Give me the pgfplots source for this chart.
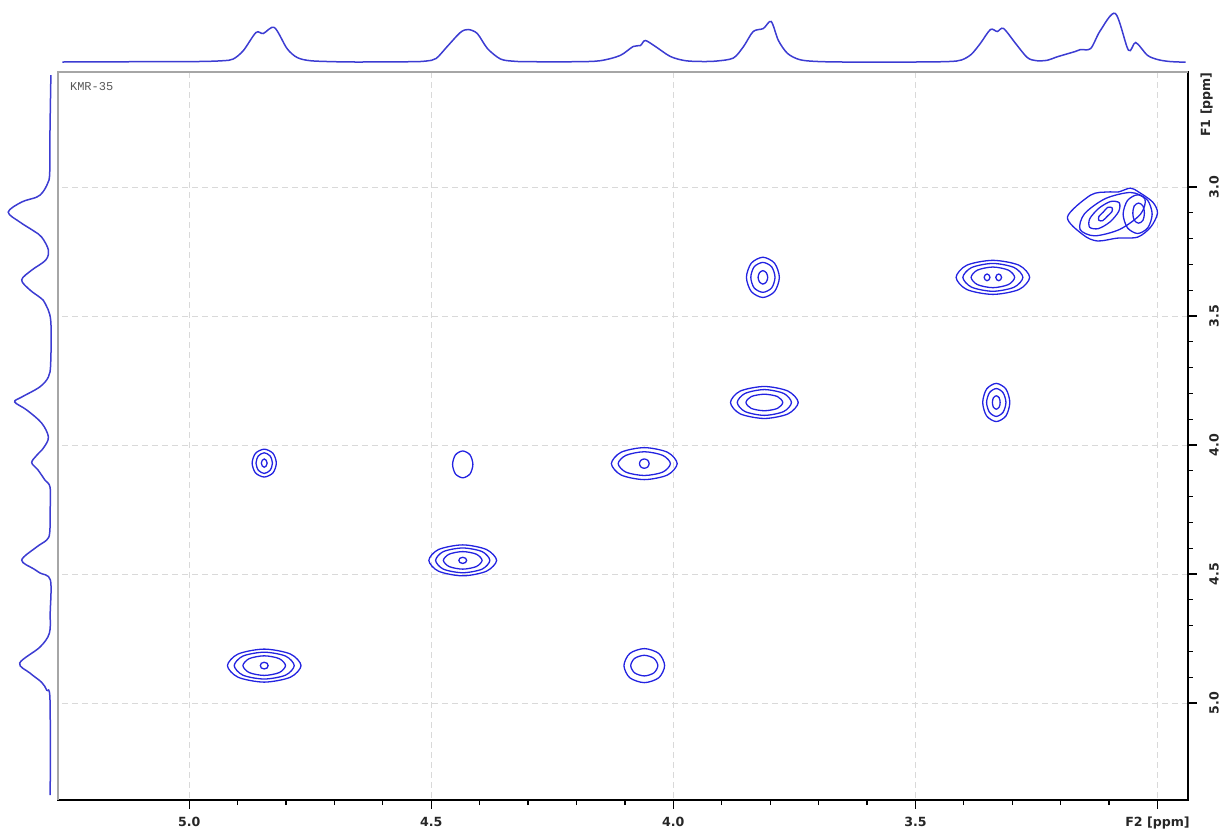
\documentclass[border=0pt]{standalone}
\usepackage{pgfplots}
\pgfplotsset{compat=1.18}
\usepackage{fontspec}
\setmainfont{DejaVu Sans}
\setmonofont{Liberation Mono}
\definecolor{nmrblue}{RGB}{35,35,225}
\definecolor{projblue}{RGB}{60,60,210}

\pgfplotstableread{
ppm h
5.262 0.5
5.100 0.8
4.980 1.0
4.930 1.8
4.909 3.5
4.888 12
4.862 30
4.847 29
4.824 35
4.798 14
4.777 5
4.750 1.8
4.700 0.8
4.650 0.5
4.540 0.8
4.510 1.5
4.490 4
4.467 16
4.440 30
4.424 33
4.405 29
4.384 14
4.357 3.5
4.330 1.3
4.300 0.8
4.200 0.8
4.151 1.8
4.110 7
4.083 16
4.068 17
4.058 22
4.037 16
4.006 6
3.975 1.8
3.940 1
3.910 1.5
3.876 4.5
3.855 16
3.835 31
3.814 34
3.798 41
3.783 22
3.764 9
3.740 3
3.710 1.2
3.650 0.5
3.500 0.5
3.430 1
3.405 2.5
3.385 8
3.366 19
3.345 33
3.331 31
3.318 34
3.293 19
3.269 5
3.250 1.8
3.227 2.3
3.207 5.7
3.170 11
3.159 13
3.138 14
3.118 32
3.087 49
3.060 12.3
3.045 20
3.021 7.3
3.000 3
2.975 1
2.942 0.3
}\topproj

\pgfplotstableread{
ppm h
2.566 0.8
2.779 1.7
2.946 2
2.985 4
3.020 9
3.039 15
3.058 30
3.097 43.5
3.136 31.7
3.170 18
3.194 10
3.244 3.3
3.283 6
3.322 20
3.360 30
3.399 21.7
3.430 11
3.450 6.7
3.516 1
3.682 1
3.736 3.3
3.775 12
3.814 30
3.833 37
3.864 25
3.915 10
3.969 3.3
4.010 8
4.040 15
4.068 20
4.095 14
4.136 6.7
4.163 1.7
4.250 1.5
4.340 2
4.368 5
4.395 15
4.446 30
4.480 18
4.496 11.7
4.523 1.3
4.650 1.5
4.729 2.3
4.783 11.7
4.845 32
4.884 21.7
4.920 10
4.950 5
4.988 1.7
5.357 1.5
}\leftproj

\begin{document}
\begin{tikzpicture}
\useasboundingbox (0,0) rectangle (612.5pt,-418pt);

% ---------- main 2D axis ----------
\begin{axis}[
  name=main, at={(29pt,-400pt)}, anchor=south west,
  scale only axis, width=565pt, height=364pt,
  x dir=reverse, y dir=reverse,
  xmin=2.937, xmax=5.271, ymin=2.554, ymax=5.376,
  xtick={3.0,3.5,4.0,4.5,5.0}, xticklabels={F2 [ppm],3.5,4.0,4.5,5.0},
  ytick={3.0,3.5,4.0,4.5,5.0}, yticklabels={3.0,3.5,4.0,4.5,5.0},
  minor x tick num=4, minor y tick num=4,
  xtick pos=bottom, ytick pos=right, yticklabel pos=right,
  tick align=outside, major tick length=4.3pt, minor tick length=2.5pt,
  tick style={black, line width=0.6pt},
  grid=major, major grid style={densely dashed, gray!30, line width=0.4pt},
  axis line style={black, line width=0.7pt},
  ticklabel style={font=\bfseries\fontsize{6.3}{7}\selectfont, text=black!85},
  xticklabel style={anchor=base, inner sep=0pt},
  xticklabel shift=9pt,
  yticklabel style={rotate=90, anchor=base, inner sep=0pt},
  yticklabel shift=11pt,
  extra y ticks={2.68}, extra y tick labels={F1 [ppm]},
  extra y tick style={major tick length=0pt, grid=none},
  clip=false,
  cont/.style={nmrblue, line width=0.65pt, smooth cycle, mark=none},
]
% peak 1 (4.845, 4.07)
\addplot[cont] coordinates {(4.870,4.070) (4.863,4.108) (4.845,4.124) (4.827,4.108) (4.820,4.070) (4.827,4.032) (4.845,4.016) (4.863,4.032)};
\addplot[cont] coordinates {(4.862,4.070) (4.857,4.098) (4.845,4.110) (4.833,4.098) (4.828,4.070) (4.833,4.042) (4.845,4.030) (4.857,4.042)};
\addplot[cont] coordinates {(4.851,4.070) (4.849,4.081) (4.845,4.086) (4.841,4.081) (4.839,4.070) (4.841,4.059) (4.845,4.054) (4.849,4.059)};
% peak 2 (4.435, 4.075)
\addplot[cont] coordinates {(4.456,4.075) (4.450,4.112) (4.435,4.127) (4.420,4.112) (4.414,4.075) (4.420,4.038) (4.435,4.023) (4.450,4.038)};
% peak 3 (4.06, 4.072)
\addplot[cont] coordinates {(4.128,4.072) (4.108,4.116) (4.060,4.134) (4.012,4.116) (3.992,4.072) (4.012,4.028) (4.060,4.010) (4.108,4.028)};
\addplot[cont] coordinates {(4.114,4.072) (4.098,4.105) (4.060,4.118) (4.022,4.105) (4.006,4.072) (4.022,4.040) (4.060,4.026) (4.098,4.040)};
\addplot[cont] coordinates {(4.070,4.072) (4.067,4.085) (4.060,4.090) (4.053,4.085) (4.050,4.072) (4.053,4.059) (4.060,4.054) (4.067,4.059)};
% peak 4 (4.435, 4.447)
\addplot[cont] coordinates {(4.505,4.447) (4.485,4.489) (4.435,4.507) (4.386,4.489) (4.365,4.447) (4.386,4.405) (4.435,4.387) (4.485,4.405)};
\addplot[cont] coordinates {(4.491,4.447) (4.475,4.481) (4.435,4.495) (4.395,4.481) (4.379,4.447) (4.395,4.413) (4.435,4.399) (4.475,4.413)};
\addplot[cont] coordinates {(4.475,4.447) (4.463,4.471) (4.435,4.481) (4.407,4.471) (4.395,4.447) (4.407,4.423) (4.435,4.413) (4.463,4.423)};
\addplot[cont] coordinates {(4.443,4.447) (4.441,4.455) (4.435,4.459) (4.429,4.455) (4.427,4.447) (4.429,4.439) (4.435,4.435) (4.441,4.439)};
% peak 5 (4.845, 4.855)
\addplot[cont] coordinates {(4.921,4.855) (4.899,4.900) (4.845,4.919) (4.791,4.900) (4.769,4.855) (4.791,4.810) (4.845,4.791) (4.899,4.810)};
\addplot[cont] coordinates {(4.907,4.855) (4.889,4.892) (4.845,4.907) (4.801,4.892) (4.783,4.855) (4.801,4.818) (4.845,4.803) (4.889,4.818)};
\addplot[cont] coordinates {(4.889,4.855) (4.876,4.882) (4.845,4.893) (4.814,4.882) (4.801,4.855) (4.814,4.828) (4.845,4.817) (4.876,4.828)};
\addplot[cont] coordinates {(4.853,4.855) (4.851,4.864) (4.845,4.868) (4.839,4.864) (4.837,4.855) (4.839,4.846) (4.845,4.842) (4.851,4.846)};
% peak 6 (4.06, 4.855)
\addplot[cont] coordinates {(4.102,4.855) (4.090,4.902) (4.060,4.921) (4.030,4.902) (4.018,4.855) (4.030,4.808) (4.060,4.789) (4.090,4.808)};
\addplot[cont] coordinates {(4.088,4.855) (4.080,4.883) (4.060,4.895) (4.040,4.883) (4.032,4.855) (4.040,4.827) (4.060,4.815) (4.080,4.827)};
% peak 7 (3.815, 3.35)
\addplot[cont] coordinates {(3.849,3.350) (3.839,3.405) (3.815,3.428) (3.791,3.405) (3.781,3.350) (3.791,3.295) (3.815,3.272) (3.839,3.295)};
\addplot[cont] coordinates {(3.840,3.350) (3.833,3.391) (3.815,3.408) (3.797,3.391) (3.790,3.350) (3.797,3.309) (3.815,3.292) (3.833,3.309)};
\addplot[cont] coordinates {(3.825,3.350) (3.822,3.368) (3.815,3.376) (3.808,3.368) (3.805,3.350) (3.808,3.332) (3.815,3.324) (3.822,3.332)};
% peak 8 (3.812, 3.835)
\addplot[cont] coordinates {(3.882,3.835) (3.862,3.879) (3.812,3.897) (3.763,3.879) (3.742,3.835) (3.763,3.791) (3.812,3.773) (3.862,3.791)};
\addplot[cont] coordinates {(3.868,3.835) (3.852,3.870) (3.812,3.885) (3.772,3.870) (3.756,3.835) (3.772,3.800) (3.812,3.785) (3.852,3.800)};
\addplot[cont] coordinates {(3.850,3.835) (3.839,3.858) (3.812,3.867) (3.785,3.858) (3.774,3.835) (3.785,3.812) (3.812,3.803) (3.839,3.812)};
% peak 9 (3.34, 3.35)
\addplot[cont] coordinates {(3.416,3.350) (3.394,3.397) (3.340,3.416) (3.286,3.397) (3.264,3.350) (3.286,3.303) (3.340,3.284) (3.394,3.303)};
\addplot[cont] coordinates {(3.402,3.350) (3.384,3.388) (3.340,3.404) (3.296,3.388) (3.278,3.350) (3.296,3.312) (3.340,3.296) (3.384,3.312)};
\addplot[cont] coordinates {(3.385,3.350) (3.372,3.378) (3.340,3.390) (3.308,3.378) (3.295,3.350) (3.308,3.322) (3.340,3.310) (3.372,3.322)};
\addplot[cont] coordinates {(3.358,3.350) (3.356,3.359) (3.352,3.363) (3.348,3.359) (3.346,3.350) (3.348,3.341) (3.352,3.337) (3.356,3.341)};
\addplot[cont] coordinates {(3.334,3.350) (3.332,3.359) (3.328,3.363) (3.324,3.359) (3.322,3.350) (3.324,3.341) (3.328,3.337) (3.332,3.341)};
% peak 10 (3.333, 3.835)
\addplot[cont] coordinates {(3.361,3.835) (3.353,3.887) (3.333,3.909) (3.313,3.887) (3.305,3.835) (3.313,3.783) (3.333,3.761) (3.353,3.783)};
\addplot[cont] coordinates {(3.353,3.835) (3.347,3.873) (3.333,3.889) (3.319,3.873) (3.313,3.835) (3.319,3.797) (3.333,3.781) (3.347,3.797)};
\addplot[cont] coordinates {(3.341,3.835) (3.339,3.853) (3.333,3.861) (3.327,3.853) (3.325,3.835) (3.327,3.817) (3.333,3.809) (3.339,3.817)};
% peak 11 (3.10, 3.09) cluster
\addplot[cont] coordinates {(3.138,3.031) (3.186,3.116) (3.153,3.186) (3.124,3.209) (3.083,3.198) (3.041,3.194) (3.014,3.155) (3.000,3.101) (3.010,3.058) (3.039,3.019) (3.056,3.004) (3.081,3.019) (3.103,3.019)};
\addplot[cont] coordinates {(3.026,3.046) (3.035,3.105) (3.078,3.164) (3.130,3.189) (3.160,3.164) (3.151,3.104) (3.108,3.045) (3.056,3.021)};
\addplot[cont] coordinates {(3.079,3.061) (3.080,3.094) (3.098,3.135) (3.122,3.161) (3.140,3.156) (3.140,3.123) (3.121,3.082) (3.097,3.056)};
\addplot[cont] coordinates {(3.094,3.080) (3.094,3.095) (3.103,3.112) (3.113,3.130) (3.121,3.129) (3.121,3.114) (3.112,3.097) (3.103,3.079)};
\addplot[cont] coordinates {(3.071,3.105) (3.062,3.158) (3.041,3.180) (3.020,3.158) (3.011,3.105) (3.020,3.052) (3.041,3.030) (3.062,3.052)};
\addplot[cont] coordinates {(3.051,3.101) (3.048,3.129) (3.039,3.140) (3.030,3.129) (3.027,3.101) (3.030,3.073) (3.039,3.062) (3.048,3.073)};
\end{axis}
\draw[gray!70, line width=1.3pt] (main.south west) -- (main.north west) -- (main.north east);
\node[anchor=west, xshift=2.5pt, yshift=-7.5pt, font=\ttfamily\fontsize{6}{6}\selectfont, text=gray!70!black] at (main.north west) {KMR-35};

% ---------- top projection ----------
\begin{axis}[
  at={(29pt,-31.25pt)}, anchor=south west,
  scale only axis, width=565pt, height=31.25pt,
  x dir=reverse, xmin=2.937, xmax=5.271, ymin=0, ymax=62.5,
  hide axis, clip=false,
]
\addplot[projblue, line width=0.75pt, smooth, tension=0.5, mark=none] table[x=ppm, y=h] {\topproj};
\end{axis}

% ---------- left projection ----------
\begin{axis}[
  at={(0pt,-400pt)}, anchor=south west,
  scale only axis, width=25.85pt, height=364pt,
  x dir=reverse, xmin=0, xmax=51.7,
  y dir=reverse, ymin=2.554, ymax=5.376,
  hide axis, clip=false,
]
\addplot[projblue, line width=0.75pt, smooth, tension=0.55, mark=none] table[x=h, y=ppm] {\leftproj};
\end{axis}
\end{tikzpicture}
\end{document}
